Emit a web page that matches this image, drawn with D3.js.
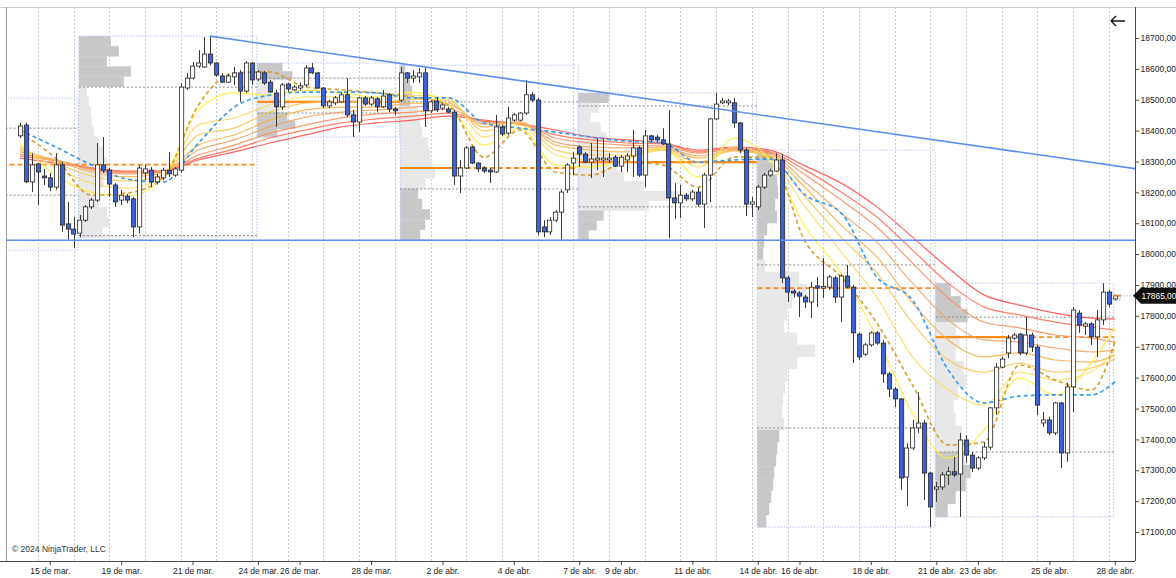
<!DOCTYPE html>
<html>
<head>
<meta charset="utf-8">
<script src="https://cdn.jsdelivr.net/npm/d3@7"></script>
<style>
  html, body { margin:0; padding:0; background:#fff; }
  svg { display:block; font-family:"Liberation Sans", Arial, sans-serif; }
</style>
</head>
<body>
<svg id="chart" width="1176" height="578"></svg>
<script>
// 240 min bars, NQ, 14 mar -> 28 abr 2024
const opens = [18383,18418,18234,18292,18253,18247,18217,18289,18098,18081,
  18068,18110,18153,18175,18289,18272,18224,18175,18188,18179,
  18088,18263,18272,18234,18247,18272,18256,18272,18538,18570,
  18609,18606,18648,18619,18577,18557,18574,18587,18528,18619,
  18567,18587,18557,18522,18477,18551,18532,18538,18548,18603,
  18587,18538,18480,18490,18493,18516,18451,18428,18506,18486,
  18503,18477,18516,18470,18499,18587,18570,18574,18587,18464,
  18496,18473,18470,18460,18253,18279,18347,18295,18279,18272,
  18266,18412,18392,18434,18434,18457,18516,18499,18088,18072,
  18110,18136,18208,18295,18347,18324,18298,18305,18305,18305,
  18314,18285,18305,18318,18344,18256,18383,18379,18370,18357,
  18182,18166,18191,18179,18201,18162,18256,18438,18490,18490,
  18490,18425,18337,18162,18153,18217,18256,18269,18305,17923,
  17880,17874,17861,17845,17897,17890,17893,17923,17861,17929,
  17893,17741,17676,17706,17745,17712,17612,17563,17531,17278,
  17372,17437,17453,17291,17239,17246,17285,17295,17288,17398,
  17349,17307,17340,17375,17502,17634,17680,17728,17741,17680,
  17738,17699,17453,17463,17421,17518,17356,17570,17809,17767,
  17774,17732,17787,17877,17855];
const highs = [18425,18425,18327,18295,18276,18263,18327,18298,18169,18120,
  18127,18159,18182,18360,18379,18279,18230,18208,18195,18185,
  18289,18289,18282,18260,18280,18331,18282,18554,18587,18622,
  18661,18703,18706,18622,18587,18583,18606,18596,18625,18622,
  18596,18593,18564,18532,18554,18556,18548,18556,18612,18619,
  18590,18541,18500,18512,18525,18570,18467,18509,18512,18512,
  18509,18532,18522,18477,18606,18590,18596,18603,18603,18499,
  18509,18490,18477,18467,18305,18350,18350,18298,18285,18279,
  18451,18418,18477,18457,18460,18564,18525,18506,18110,18120,
  18143,18208,18295,18331,18353,18331,18360,18376,18373,18327,
  18321,18321,18327,18402,18350,18402,18386,18386,18408,18467,
  18230,18224,18198,18208,18214,18263,18441,18522,18506,18503,
  18506,18428,18344,18185,18224,18263,18276,18327,18324,17930,
  17887,17880,17868,17910,17926,17987,17932,17930,17935,17965,
  17900,17745,17712,17750,17751,17722,17618,17570,17534,17388,
  17463,17553,17463,17295,17262,17295,17311,17343,17421,17414,
  17359,17346,17391,17505,17647,17667,17738,17745,17745,17796,
  17745,17706,17489,17473,17521,17521,17583,17829,17819,17780,
  17780,17819,17906,17884,17870];
const lows = [18376,18230,18201,18159,18224,18204,18208,18072,18046,18020,
  18055,18104,18146,18169,18263,18185,18153,18159,18165,18055,
  18068,18240,18217,18225,18240,18250,18250,18263,18532,18565,
  18603,18603,18612,18574,18554,18554,18548,18493,18522,18548,
  18561,18548,18522,18412,18467,18525,18528,18530,18541,18583,
  18535,18473,18473,18483,18490,18444,18379,18396,18480,18480,
  18460,18473,18460,18451,18493,18554,18554,18554,18412,18457,
  18460,18467,18457,18224,18198,18276,18292,18266,18263,18230,
  18263,18383,18386,18428,18430,18451,18493,18062,18055,18062,
  18104,18046,18198,18256,18282,18295,18246,18272,18250,18295,
  18282,18266,18266,18250,18250,18217,18363,18363,18353,18052,
  18114,18117,18172,18172,18153,18085,18169,18434,18486,18483,
  18409,18327,18123,18120,18143,18211,18250,18266,17906,17845,
  17860,17796,17825,17793,17829,17858,17884,17842,17780,17890,
  17647,17657,17670,17700,17706,17583,17537,17505,17236,17184,
  17366,17421,17204,17116,17197,17236,17252,17278,17149,17324,
  17294,17300,17333,17366,17479,17631,17663,17722,17673,17673,
  17683,17479,17440,17414,17414,17307,17327,17489,17745,17738,
  17706,17667,17770,17829,17850];
const closes = [18415,18234,18289,18266,18247,18217,18289,18094,18081,18065,
  18110,18153,18175,18289,18272,18227,18169,18191,18175,18088,
  18279,18276,18234,18250,18272,18260,18276,18541,18570,18609,
  18619,18648,18619,18580,18557,18577,18587,18528,18619,18564,
  18590,18554,18525,18477,18548,18535,18541,18545,18603,18587,
  18538,18480,18493,18506,18516,18451,18428,18506,18486,18506,
  18477,18512,18470,18464,18587,18570,18577,18587,18464,18493,
  18467,18483,18460,18253,18279,18344,18295,18276,18269,18266,
  18412,18389,18441,18451,18457,18516,18499,18072,18072,18110,
  18136,18201,18289,18311,18324,18298,18308,18311,18311,18311,
  18285,18314,18318,18344,18256,18383,18370,18370,18357,18182,
  18166,18191,18179,18201,18162,18256,18438,18486,18496,18496,
  18425,18337,18162,18169,18217,18256,18269,18305,17923,17877,
  17874,17864,17845,17893,17890,17895,17926,17861,17929,17893,
  17745,17667,17706,17745,17712,17612,17563,17531,17275,17372,
  17437,17453,17291,17181,17246,17285,17295,17285,17398,17349,
  17307,17340,17375,17502,17634,17660,17728,17738,17680,17738,
  17699,17511,17463,17421,17518,17356,17570,17819,17770,17774,
  17732,17787,17877,17838,17865];

// x axis session labels (bar index where each date starts)
const tickBars = [5,17,29,40,47,59,71,83,94,101,113,124,131,143,154,161,173,184];
const tickLabels = ["15 de mar.","19 de mar.","21 de mar.","24 de mar.","26 de mar.","28 de mar.",
  "2 de abr.","4 de abr.","7 de abr.","9 de abr.","11 de abr.","14 de abr.","16 de abr.",
  "18 de abr.","21 de abr.","23 de abr.","25 de abr.","28 de abr."];
const priceTicks = [17100,17200,17300,17400,17500,17600,17700,17800,17900,18000,18100,18200,18300,18400,18500,18600,18700];

// moving average ribbon, read every 6 bars
const maBars = [0,6,12,18,24,30,36,42,48,54,60,66,72,78,84,90,96,102,108,114,120,126,132,138,144,150,156,162,168,174,180,184];
const ema1 = [18311,18295,18279,18269,18269,18305,18331,18360,18386,18412,18425,18434,18447,18434,18421,18402,18379,18370,18360,18337,18347,18337,18285,18230,18153,18055,17955,17868,17835,17809,17793,17790];
const ema2 = [18318,18302,18279,18266,18269,18311,18340,18376,18402,18425,18438,18447,18457,18431,18421,18386,18370,18360,18357,18331,18344,18331,18272,18201,18120,18013,17906,17829,17803,17780,17764,17754];
const ema3 = [18324,18305,18276,18263,18266,18321,18353,18392,18418,18441,18454,18460,18470,18428,18425,18376,18360,18353,18350,18327,18340,18327,18256,18175,18088,17971,17858,17780,17761,17738,17728,17715];
const ema4 = [18331,18305,18272,18259,18266,18337,18370,18412,18444,18460,18467,18476,18483,18421,18428,18363,18347,18344,18344,18318,18337,18324,18233,18133,18039,17906,17787,17722,17715,17696,17683,17689];
const ema5 = [18337,18302,18266,18250,18263,18353,18386,18434,18467,18476,18476,18489,18489,18412,18428,18353,18337,18331,18340,18311,18334,18318,18214,18094,17991,17842,17722,17667,17680,17657,17650,17673];
const ema6 = [18344,18295,18253,18237,18256,18386,18408,18460,18489,18493,18489,18502,18499,18399,18425,18337,18321,18321,18337,18298,18337,18314,18185,18055,17939,17777,17657,17618,17647,17618,17631,17660];
const ema7 = [18350,18279,18230,18214,18250,18418,18441,18483,18509,18509,18502,18515,18506,18379,18418,18321,18305,18314,18337,18282,18347,18311,18152,18007,17861,17667,17560,17511,17618,17592,17618,17689];
const ema8 = [18360,18256,18201,18188,18246,18467,18522,18515,18531,18522,18509,18525,18483,18353,18408,18289,18282,18308,18344,18250,18376,18305,18088,17939,17731,17485,17339,17430,17599,17544,17647,17761];
const blueDash = [18402,18347,18289,18243,18233,18360,18476,18515,18525,18525,18522,18506,18506,18425,18408,18395,18379,18366,18360,18298,18305,18308,18191,18133,17926,17851,17625,17518,17540,17544,17544,17586];
const goldDash = [18392,18311,18191,18198,18246,18483,18587,18590,18541,18532,18522,18509,18483,18314,18402,18266,18256,18298,18289,18217,18314,18314,18039,17926,17777,17576,17382,17391,17641,17592,17560,17715];
const emaColors = ["#ff5252","#ff7257","#f8905c","#eca56c","#f5b24c","#f9c75a","#fcdb66","#ffee3a"];

// weekly volume profiles
const profStart = [-3,10,40,64,94,124,154];
const profEnd   = [9,39,63,93,123,153,183];
const profHigh  = [18505,18706,18619,18612,18522,18337,17906];
const profLow   = [18013,18055,18379,18046,18046,17116,17149];
const profVah   = [18408,18541,18570,18493,18480,17965,17796];
const profVal   = [18191,18060,18457,18211,18153,17437,17359];
const profPoc   = [18290,null,18493,18279,18298,17890,17731];
const pocSolidTo= [-3.1,null,63.9,73.6,123.9,123.9,165.9];
const pocEnd    = [39.8,null,63.9,93.8,123.9,153.8,183.9];
const volA = [];
const volB = [32,40,28,52,45,8,10,12,13,15,20,24,28,30,25,18,20,28,30,24];
const volC = [25,35,15,12,18,22,30,38,20];
const volD = [5,10,12,10,18,20,22,28,30,32,35,25,18,22,30,25,20];
const volE = [30,20,12,22,28,20,30,38,45,65,100,70,25,18,10];
const volF = [12,16,20,21,18,20,10,7,6,8,42,50,35,30,27,40,58,40,30,28,26,25,27,22,20,19,17,16,14,12,9];
const volG = [15,25,32,20,24,20,28,30,22,18,20,26,24,28,35,30,20,12];
const profVols = [volA,volB,volC,volD,volE,volF,volG];

// drawn lines
const trendBars = [31.9,187.4];
const trendPrices = [18706,18277];
const supportPrice = 18045;
const lastPrice = 17865;

const svg = d3.select("#chart");
const L = 6, R = 1135, T = 7, B = 561;
const x = d3.scaleLinear().domain([-2.353, 187.39]).range([L, R]);
const y = d3.scaleLinear().domain([17100, 18700]).range([532, 38]);
const volX = d3.scaleLinear().domain([0, 100]).range([0, 100]);
const barW = 4.2;
const fmtPrice = d => d3.format(".2f")(d).replace(".", ",");

svg.append("defs").append("clipPath").attr("id","clip")
  .append("rect").attr("x",L).attr("y",T).attr("width",R-L).attr("height",B-T);

// frame
svg.append("line").attr("x1",0).attr("x2",1176).attr("y1",T+0.5).attr("y2",T+0.5).attr("stroke","#cfcfcf");
svg.append("line").attr("x1",L+0.5).attr("x2",L+0.5).attr("y1",T).attr("y2",B).attr("stroke","#9a9a9a");

const g = svg.append("g").attr("clip-path","url(#clip)");

// vertical grid every session (6 bars)
g.selectAll(".vgrid").data(d3.range(3, 185, 6)).join("line")
  .attr("x1", d => Math.round(x(d)) + 0.5).attr("x2", d => Math.round(x(d)) + 0.5)
  .attr("y1", T).attr("y2", B)
  .attr("stroke", "#c9c9c9").attr("stroke-dasharray", "2,2");

// profiles
const profiles = profStart.map((s, k) => ({
  left: x(s - 0.1), right: x(profEnd[k] + 0.8),
  high: profHigh[k], low: profLow[k], vah: profVah[k], val: profVal[k],
  poc: profPoc[k], solid: pocSolidTo[k], end: pocEnd[k], vols: profVols[k]
}));

profiles.forEach(p => {
  const n = p.vols.length;
  if (n) {
    const step = (p.high - p.low) / n;
    g.append("g").selectAll("rect").data(p.vols).join("rect")
      .attr("x", p.left)
      .attr("y", (v, j) => y(p.high - j * step))
      .attr("width", v => volX(v))
      .attr("height", y(p.low) - y(p.low + step) + 0.3)
      .attr("fill", (v, j) => {
        const mid = p.high - (j + 0.5) * step;
        return (mid > p.vah || mid < p.val) ? "#c8c8c8" : "#e8e8e8";
      });
  }
  g.append("rect")
    .attr("x", p.left).attr("y", y(p.high))
    .attr("width", p.right - p.left).attr("height", y(p.low) - y(p.high))
    .attr("fill", "none").attr("stroke", "#b3c6f2").attr("stroke-dasharray", "1.5,1.5");
  [p.vah, p.val].forEach(v => {
    g.append("line").attr("x1", p.left).attr("x2", p.right)
      .attr("y1", y(v)).attr("y2", y(v))
      .attr("stroke", "#8a8a8a").attr("stroke-dasharray", "2,2");
  });
});

// POC lines
profiles.forEach(p => {
  if (p.poc == null) return;
  const xs = x(p.solid);
  if (xs > p.left) {
    g.append("line").attr("x1", p.left).attr("x2", xs)
      .attr("y1", y(p.poc)).attr("y2", y(p.poc))
      .attr("stroke", "#ff8c1a").attr("stroke-width", 2.2);
  }
  if (x(p.end) > xs + 1) {
    g.append("line").attr("x1", Math.max(xs, p.left)).attr("x2", x(p.end))
      .attr("y1", y(p.poc)).attr("y2", y(p.poc))
      .attr("stroke", "#ff8c1a").attr("stroke-width", 1.8).attr("stroke-dasharray", "5,3");
  }
});

// ribbon
const maLine = d3.line().x((d, i) => x(maBars[i])).y(d => y(d)).curve(d3.curveMonotoneX);
[ema1, ema2, ema3, ema4, ema5, ema6, ema7, ema8].forEach((s, k) => {
  g.append("path").attr("d", maLine(s)).attr("fill", "none")
    .attr("stroke", emaColors[k]).attr("stroke-width", 1.2).attr("opacity", 0.9);
});
g.append("path").attr("d", maLine(goldDash)).attr("fill", "none")
  .attr("stroke", "#d9a235").attr("stroke-width", 1.7).attr("stroke-dasharray", "4,3");
g.append("path").attr("d", maLine(blueDash)).attr("fill", "none")
  .attr("stroke", "#3a9cf0").attr("stroke-width", 1.7).attr("stroke-dasharray", "4,3");

// candles
const bars = d3.range(closes.length);
g.append("g").selectAll("line").data(bars).join("line")
  .attr("x1", i => Math.round(x(i)) + 0.5).attr("x2", i => Math.round(x(i)) + 0.5)
  .attr("y1", i => y(highs[i])).attr("y2", i => y(lows[i]))
  .attr("stroke", "#3a3a3a").attr("stroke-width", 1);
g.append("g").selectAll("rect").data(bars).join("rect")
  .attr("x", i => Math.round(x(i) - barW / 2) + 0.5)
  .attr("y", i => y(Math.max(opens[i], closes[i])))
  .attr("width", barW)
  .attr("height", i => Math.max(1, Math.abs(y(opens[i]) - y(closes[i]))))
  .attr("fill", i => closes[i] >= opens[i] ? "#fbfbfb" : "#3c62d3")
  .attr("stroke", "#262626").attr("stroke-width", 0.8);

// current week stub
const lb = closes.length - 1;
g.append("rect").attr("x", x(lb - 0.1)).attr("y", y(highs[lb])).attr("width", x(lb + 0.9) - x(lb - 0.1))
  .attr("height", y(lows[lb]) - y(highs[lb])).attr("fill", "none")
  .attr("stroke", "#b3c6f2").attr("stroke-dasharray", "1.5,1.5");
g.append("line").attr("x1", x(lb - 0.3)).attr("x2", x(lb + 1))
  .attr("y1", y(lastPrice)).attr("y2", y(lastPrice))
  .attr("stroke", "#ff8c1a").attr("stroke-width", 2).attr("stroke-dasharray", "3,2");

// trend & support lines
g.append("line").attr("x1", x(trendBars[0])).attr("x2", x(trendBars[1]))
  .attr("y1", y(trendPrices[0])).attr("y2", y(trendPrices[1]))
  .attr("stroke", "#5f8fee").attr("stroke-width", 1.6);
g.append("line").attr("x1", L).attr("x2", R)
  .attr("y1", y(supportPrice)).attr("y2", y(supportPrice))
  .attr("stroke", "#5f8fee").attr("stroke-width", 1.6);

// last price guide
svg.append("line").attr("x1", x(lb + 1)).attr("x2", R)
  .attr("y1", y(lastPrice)).attr("y2", y(lastPrice))
  .attr("stroke", "#bbbbbb").attr("stroke-dasharray", "1.5,1.5");

// axes
svg.append("line").attr("x1", R + 0.5).attr("x2", R + 0.5).attr("y1", T).attr("y2", B)
  .attr("stroke", "#4a4a4a");
svg.append("line").attr("x1", 0).attr("x2", R).attr("y1", B + 0.5).attr("y2", B + 0.5)
  .attr("stroke", "#4a4a4a");

const yAxis = d3.axisRight(y).tickValues(priceTicks)
  .tickFormat(fmtPrice).tickSize(4).tickPadding(1.5);
const ya = svg.append("g").attr("transform", `translate(${R},0)`).call(yAxis);
ya.select(".domain").remove();
ya.selectAll("line").attr("stroke", "#4a4a4a");
ya.selectAll("text").attr("fill", "#222").attr("font-size", 8.5);

const xAxis = d3.axisBottom(x).tickValues(tickBars)
  .tickFormat((d, i) => tickLabels[i]).tickSize(4).tickPadding(3);
const xa = svg.append("g").attr("transform", `translate(0,${B})`).call(xAxis);
xa.select(".domain").remove();
xa.selectAll("line").attr("stroke", "#4a4a4a");
xa.selectAll("text").attr("fill", "#222").attr("font-size", 8.5);

// last price tag
const ly = y(lastPrice);
svg.append("path")
  .attr("d", `M${R - 2},${ly} L${R + 6},${ly - 8} L1176,${ly - 8} L1176,${ly + 8} L${R + 6},${ly + 8} Z`)
  .attr("fill", "#111");
svg.append("text").attr("x", R + 6.5).attr("y", ly).attr("dy", "0.35em")
  .attr("fill", "#fff").attr("font-size", 8.4).text(fmtPrice(lastPrice));

// arrow + copyright
svg.append("path").attr("d", "M1111,21 L1125,21 M1111,21 L1116,16 M1111,21 L1116,26")
  .attr("stroke", "#111").attr("stroke-width", 1.4).attr("fill", "none");
svg.append("text").attr("x", 12).attr("y", 552).attr("font-size", 8.5).attr("fill", "#333")
  .text("© 2024 NinjaTrader, LLC");
</script>
</body>
</html>
